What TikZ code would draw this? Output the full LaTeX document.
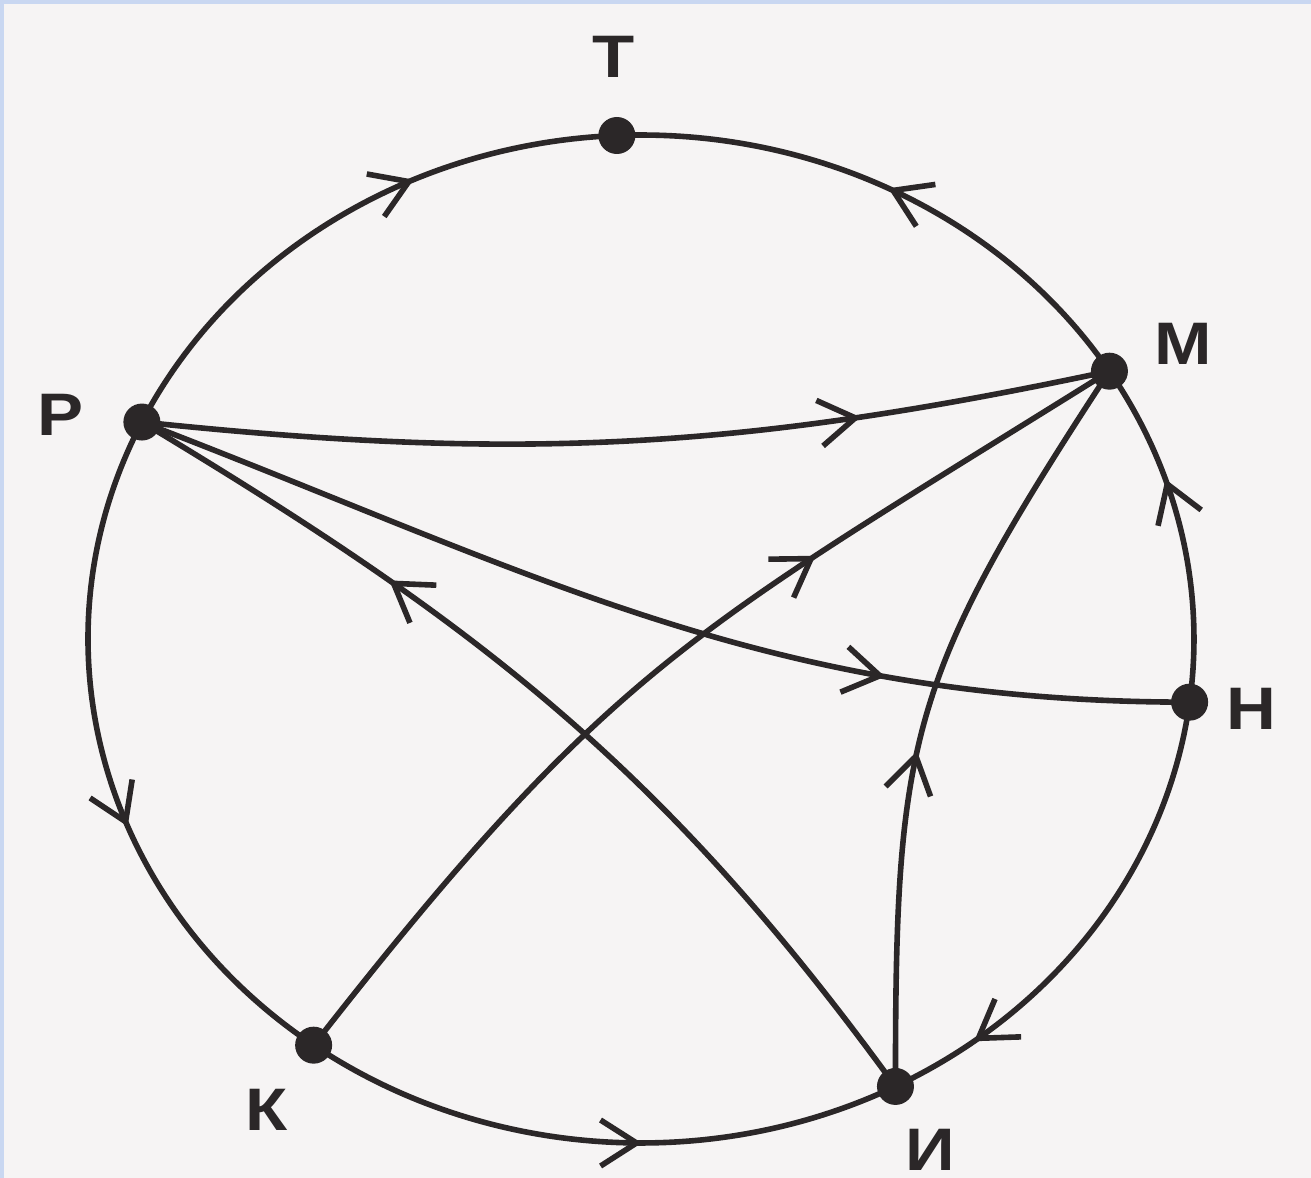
\documentclass[tikz,border=0pt]{standalone}
\usepackage{fontspec}
\newfontfamily\lblfont[FakeStretch=1.15]{Liberation Sans}
\usetikzlibrary{arrows.meta,decorations.markings,calc}
\definecolor{ink}{HTML}{2B2728}
\definecolor{paper}{HTML}{F6F4F4}
\definecolor{framecol}{HTML}{C9D7F1}
\begin{document}
\begin{tikzpicture}[x=0.25pt,y=0.25pt,
  edge/.style={draw=ink, line width=1.4pt},
  mid/.style={postaction={decorate}, decoration={markings, mark=at position #1 with {\arrow[ink, line width=1.4pt]{Straight Barb[length=9pt,width=11.5pt]}}}},
  dot/.style={circle, fill=ink, inner sep=0pt, minimum size=9.25pt},
  lbl/.style={text=ink, font=\lblfont\bfseries\fontsize{15}{15}\selectfont, inner sep=0pt},
  ring/.style={x radius=138.25pt, y radius=126pt}
]
\fill[paper] (0,0) rectangle (1311,-1178);
\fill[framecol] (0,0) rectangle (1311,-4);
\fill[framecol] (0,0) rectangle (4,-1178);
\useasboundingbox (0,0) rectangle (1311,-1178);

\coordinate (C) at (641,-639);
\coordinate (T) at ($(C)+(92.5:138.25pt and 126pt)$);
\coordinate (M) at ($(C)+(32.1:138.25pt and 126pt)$);
\coordinate (P) at ($(C)+(154.5:138.25pt and 126pt)$);
\coordinate (H) at ($(C)+(-7.2:138.25pt and 126pt)$);
\coordinate (K) at ($(C)+(233.7:138.25pt and 126pt)$);
\coordinate (I) at ($(C)+(-62.6:138.25pt and 126pt)$);

% outer ring arcs
\draw[edge, mid=0.64] (P) arc[ring, start angle=154.5, end angle=92.5];
\draw[edge, mid=0.51] (M) arc[ring, start angle=32.1, end angle=92.5];
\draw[edge, mid=0.65] (H) arc[ring, start angle=-7.2, end angle=32.1];
\draw[edge, mid=0.82] (H) arc[ring, start angle=-7.2, end angle=-62.6];
\draw[edge, mid=0.57] (K) arc[ring, start angle=233.7, end angle=297.4];
\draw[edge, mid=0.59] (P) arc[ring, start angle=154.5, end angle=233.7];

% inner connectors
\draw[edge, mid=0.74] (P) to[bend right=9] (M);
\draw[edge, mid=0.72] (P) to[out=-21, in=180, looseness=1] (H);
\draw[edge, mid=0.71] (I) to[out=126, in=-31] (P);
\draw[edge, mid=0.67] (K) to[out=52, in=212, looseness=1.2] (M);
\draw[edge, mid=0.44] (I) .. controls +(0,351) and +(-201,-307) .. (M);

% vertices
\node[dot] (Td) at (T) {};
\node[dot] (Md) at (M) {};
\node[dot] (Pd) at (P) {};
\node[dot] (Hd) at (H) {};
\node[dot] (Kd) at (K) {};
\node[dot] (Id) at (I) {};

% labels
\node[lbl] (lT) at (614,-57) {Т};
\node[lbl] (lM) at (1183,-344) {М};
\node[lbl] (lP) at (61,-415) {Р};
\node[lbl] (lH) at (1251,-709) {Н};
\node[lbl] (lK) at (267,-1110) {К};
\node[lbl] (lI) at (930,-1150) {И};
\end{tikzpicture}
\end{document}
